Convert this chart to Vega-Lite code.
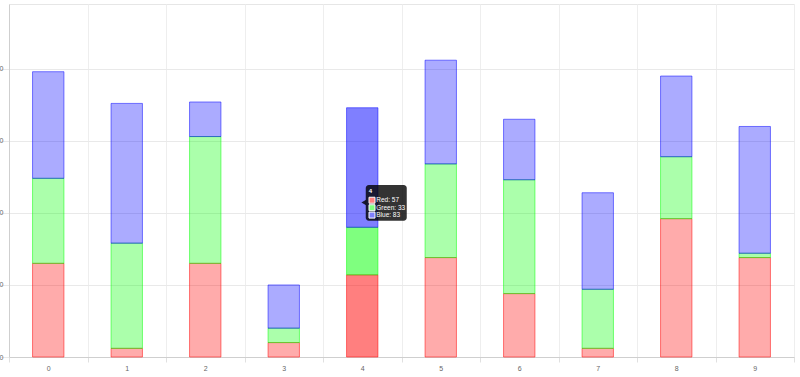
{
  "$schema": "https://vega.github.io/schema/vega-lite/v6.json",
  "width": 785,
  "height": 353,
  "autosize": {"type": "none"},
  "padding": {"left": 9, "top": 4, "right": 6, "bottom": 20},
  "background": "white",
  "config": {"view": {"stroke": "#e6e6e6"}, "font": "Liberation Sans"},
  "data": {
    "values": [
      {"x": "0", "series": "Red", "value": 65}, {"x": "0", "series": "Green", "value": 59}, {"x": "0", "series": "Blue", "value": 74},
      {"x": "1", "series": "Red", "value": 6}, {"x": "1", "series": "Green", "value": 73}, {"x": "1", "series": "Blue", "value": 97},
      {"x": "2", "series": "Red", "value": 65}, {"x": "2", "series": "Green", "value": 88}, {"x": "2", "series": "Blue", "value": 24},
      {"x": "3", "series": "Red", "value": 10}, {"x": "3", "series": "Green", "value": 10}, {"x": "3", "series": "Blue", "value": 30},
      {"x": "4", "series": "Red", "value": 57}, {"x": "4", "series": "Green", "value": 33}, {"x": "4", "series": "Blue", "value": 83},
      {"x": "5", "series": "Red", "value": 69}, {"x": "5", "series": "Green", "value": 65}, {"x": "5", "series": "Blue", "value": 72},
      {"x": "6", "series": "Red", "value": 44}, {"x": "6", "series": "Green", "value": 79}, {"x": "6", "series": "Blue", "value": 42},
      {"x": "7", "series": "Red", "value": 6}, {"x": "7", "series": "Green", "value": 41}, {"x": "7", "series": "Blue", "value": 67},
      {"x": "8", "series": "Red", "value": 96}, {"x": "8", "series": "Green", "value": 43}, {"x": "8", "series": "Blue", "value": 56},
      {"x": "9", "series": "Red", "value": 69}, {"x": "9", "series": "Green", "value": 3}, {"x": "9", "series": "Blue", "value": 88}
    ]
  },
  "transform": [
    {"calculate": "indexof(['Red','Green','Blue'], datum.series)", "as": "k"},
    {"calculate": "datum.series + ': ' + datum.value", "as": "label"}
  ],
  "encoding": {
    "x": {
      "field": "x", "type": "nominal", "sort": null,
      "scale": {"paddingInner": 0, "paddingOuter": 0},
      "axis": {
        "title": null, "labelAngle": 0, "tickBand": "extent", "grid": true,
        "gridColor": "#eeeeee", "tickColor": "#e0e0e0", "tickSize": 5,
        "domainColor": "#cfcfcf", "labelColor": "#666666", "labelFontSize": 7, "labelPadding": 2
      }
    }
  },
  "layer": [
    {
      "mark": {"type": "bar", "width": {"band": 0.4}, "strokeWidth": 1},
      "encoding": {
        "y": {
          "field": "value", "type": "quantitative", "stack": "zero",
          "scale": {"domain": [0, 245], "nice": false},
          "axis": {
            "title": null, "values": [0, 50, 100, 150, 200], "grid": true,
            "gridColor": "#e9e9e9", "tickColor": "#e9e9e9", "tickSize": 9,
            "domainColor": "#cfcfcf", "labelColor": "#666666", "labelFontSize": 7, "labelPadding": -3
          }
        },
        "color": {"field": "series", "type": "nominal", "scale": {"domain": ["Red", "Green", "Blue"], "range": ["#ff0000", "#00ff00", "#0000ff"]}, "legend": null},
        "stroke": {"field": "series", "type": "nominal", "scale": {"domain": ["Red", "Green", "Blue"], "range": ["#ff0000", "#00ff00", "#0000ff"]}, "legend": null},
        "order": {"field": "k", "sort": "ascending"},
        "fillOpacity": {"condition": {"test": "datum.x === '4'", "value": 0.5}, "value": 0.33},
        "strokeOpacity": {"value": 0.5}
      }
    },
    {
      "transform": [{"filter": "datum.x === '4' && datum.series === 'Red'"}],
      "layer": [
        {
          "mark": {"type": "bar", "width": 41, "xOffset": 24, "cornerRadius": 3, "fill": "#000000", "fillOpacity": 0.8},
          "encoding": {"y": {"datum": 119.4}, "y2": {"datum": 94.5}}
        },
        {
          "mark": {"type": "point", "shape": "triangle-left", "filled": true, "size": 30, "fill": "#000000", "fillOpacity": 0.8, "xOffset": 1.5},
          "encoding": {"y": {"datum": 107.3}}
        },
        {
          "mark": {"type": "text", "align": "left", "baseline": "middle", "xOffset": 6.5, "fontSize": 6, "fontWeight": "bold", "fill": "#ffffff"},
          "encoding": {"y": {"datum": 115.5}, "text": {"field": "x"}}
        }
      ]
    },
    {
      "transform": [{"filter": "datum.x === '4' && datum.series === 'Red'"}],
      "encoding": {"y": {"datum": 108.8}},
      "layer": [
        {"mark": {"type": "point", "shape": "square", "filled": true, "size": 36, "fill": "#ff8080", "fillOpacity": 1, "stroke": "#ffffff", "strokeWidth": 1, "xOffset": 9.75}},
        {"mark": {"type": "text", "align": "left", "baseline": "middle", "xOffset": 14, "fontSize": 6.5, "fill": "#ffffff"}, "encoding": {"text": {"field": "label"}}}
      ]
    },
    {
      "transform": [{"filter": "datum.x === '4' && datum.series === 'Green'"}],
      "encoding": {"y": {"datum": 103.6}},
      "layer": [
        {"mark": {"type": "point", "shape": "square", "filled": true, "size": 36, "fill": "#80ff80", "fillOpacity": 1, "stroke": "#ffffff", "strokeWidth": 1, "xOffset": 9.75}},
        {"mark": {"type": "text", "align": "left", "baseline": "middle", "xOffset": 14, "fontSize": 6.5, "fill": "#ffffff"}, "encoding": {"text": {"field": "label"}}}
      ]
    },
    {
      "transform": [{"filter": "datum.x === '4' && datum.series === 'Blue'"}],
      "encoding": {"y": {"datum": 98.5}},
      "layer": [
        {"mark": {"type": "point", "shape": "square", "filled": true, "size": 36, "fill": "#8080ff", "fillOpacity": 1, "stroke": "#ffffff", "strokeWidth": 1, "xOffset": 9.75}},
        {"mark": {"type": "text", "align": "left", "baseline": "middle", "xOffset": 14, "fontSize": 6.5, "fill": "#ffffff"}, "encoding": {"text": {"field": "label"}}}
      ]
    }
  ]
}
